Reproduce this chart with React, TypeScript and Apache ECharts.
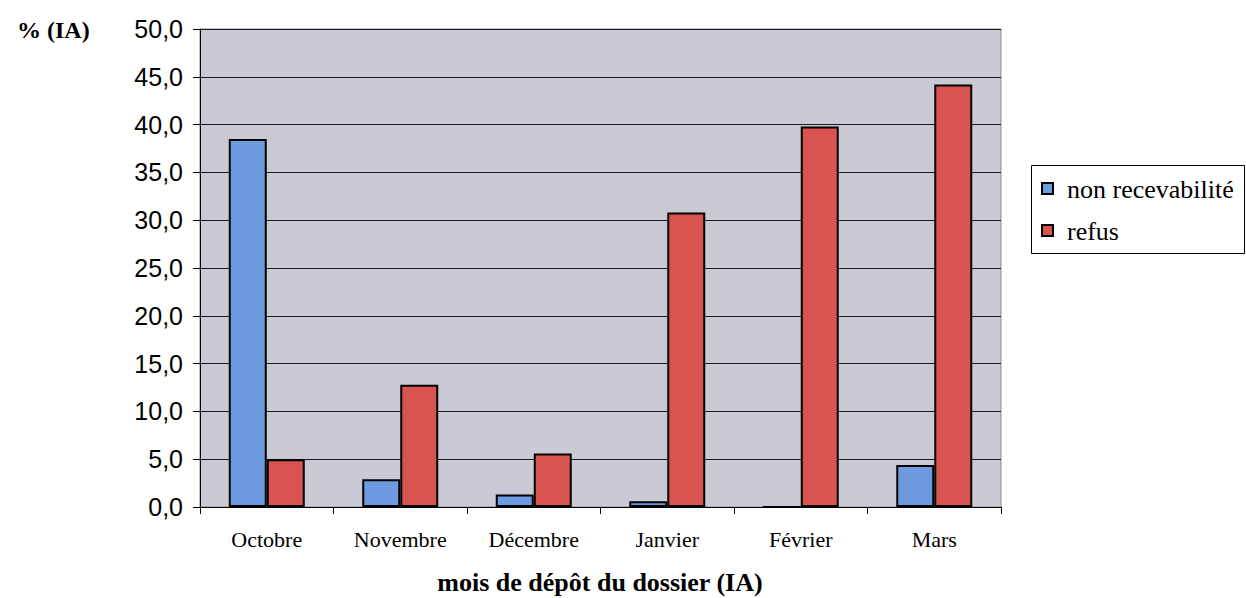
import React, { useEffect, useRef } from "react";
import * as echarts from "echarts";

const categories = ["Octobre", "Novembre", "Décembre", "Janvier", "Février", "Mars"];
const nonRecevabilite = [38.5, 2.9, 1.3, 0.6, 0, 4.4];
const refus = [5.0, 12.8, 5.6, 30.8, 39.8, 44.2];
const seriesNames = ["non recevabilité", "refus"];
const seriesColors = ["#6e9be0", "#d95350"];
const yAxisTitle = "% (IA)";
const xAxisTitle = "mois de dépôt du dossier (IA)";

export default function App() {
  const ref = useRef<HTMLDivElement>(null);
  useEffect(() => {
    if (!ref.current) return;
    const chart = echarts.init(ref.current, undefined, { renderer: "svg" });
    const serif = "'Liberation Serif', 'Times New Roman', serif";
    const sans = "Liberation Sans";
    const legendBox = { x: 1031, y: 165, w: 213, h: 88 };
    const legendRowY = [189, 231];
    const legendItems: any[] = [];
    seriesNames.forEach((name, i) => {
      legendItems.push({
        type: "rect",
        shape: { x: 1042, y: legendRowY[i] - 6, width: 11, height: 11 },
        style: { fill: seriesColors[i], stroke: "#000", lineWidth: 2 },
      });
      legendItems.push({
        type: "text",
        x: 1067,
        y: legendRowY[i],
        style: {
          text: name,
          fontFamily: serif,
          fontSize: 26,
          fontWeight: "normal",
          fill: "#000",
          align: "left",
          verticalAlign: "middle",
        },
      });
    });
    chart.setOption({
      animation: false,
      backgroundColor: "#ffffff",
      grid: {
        left: 200,
        right: 245,
        top: 29,
        bottom: 91,
        show: true,
        backgroundColor: "#cacad5",
        borderColor: "#8a8a8a",
        borderWidth: 1,
      },
      xAxis: {
        type: "category",
        data: categories,
        axisLine: { show: true, lineStyle: { color: "#000", width: 1 } },
        axisTick: { show: true, length: 7, lineStyle: { color: "#000" } },
        axisLabel: {
          fontFamily: serif,
          fontSize: 22,
          color: "#000",
          margin: 21,
        },
      },
      yAxis: {
        type: "value",
        min: 0,
        max: 50,
        interval: 5,
        axisLine: { show: true, lineStyle: { color: "#000", width: 1 } },
        axisTick: { show: true, length: 7, lineStyle: { color: "#000" } },
        splitLine: { show: true, lineStyle: { color: "#1a1a1a", width: 1 } },
        axisLabel: {
          fontFamily: sans,
          fontSize: 25,
          color: "#000",
          margin: 17,
          formatter: (v: number) => v.toFixed(1).replace(".", ","),
        },
      },
      series: [
        {
          name: seriesNames[0],
          type: "bar",
          data: nonRecevabilite,
          barWidth: 38,
          barGap: "0%",
          itemStyle: { color: seriesColors[0], borderColor: "#000", borderWidth: 2 },
        },
        {
          name: seriesNames[1],
          type: "bar",
          data: refus,
          barWidth: 38,
          barGap: "0%",
          itemStyle: { color: seriesColors[1], borderColor: "#000", borderWidth: 2 },
        },
      ],
      graphic: [
        {
          type: "rect",
          shape: { x: legendBox.x + 0.5, y: legendBox.y + 0.5, width: legendBox.w, height: legendBox.h },
          style: { fill: "#fff", stroke: "#000", lineWidth: 1 },
        },
        ...legendItems,
        {
          type: "text",
          x: 17,
          y: 30,
          style: {
            text: yAxisTitle,
            fontFamily: serif,
            fontSize: 24,
            fontWeight: "bold",
            fill: "#000",
            align: "left",
            verticalAlign: "middle",
          },
        },
        {
          type: "text",
          x: 600,
          y: 582,
          style: {
            text: xAxisTitle,
            fontFamily: serif,
            fontSize: 26,
            fontWeight: "bold",
            fill: "#000",
            align: "center",
            verticalAlign: "middle",
          },
        },
      ],
    });
    return () => chart.dispose();
  }, []);
  return (
    <div
      ref={ref}
      style={{ position: "fixed", left: 0, top: 0, width: 1246, height: 598 }}
    />
  );
}
